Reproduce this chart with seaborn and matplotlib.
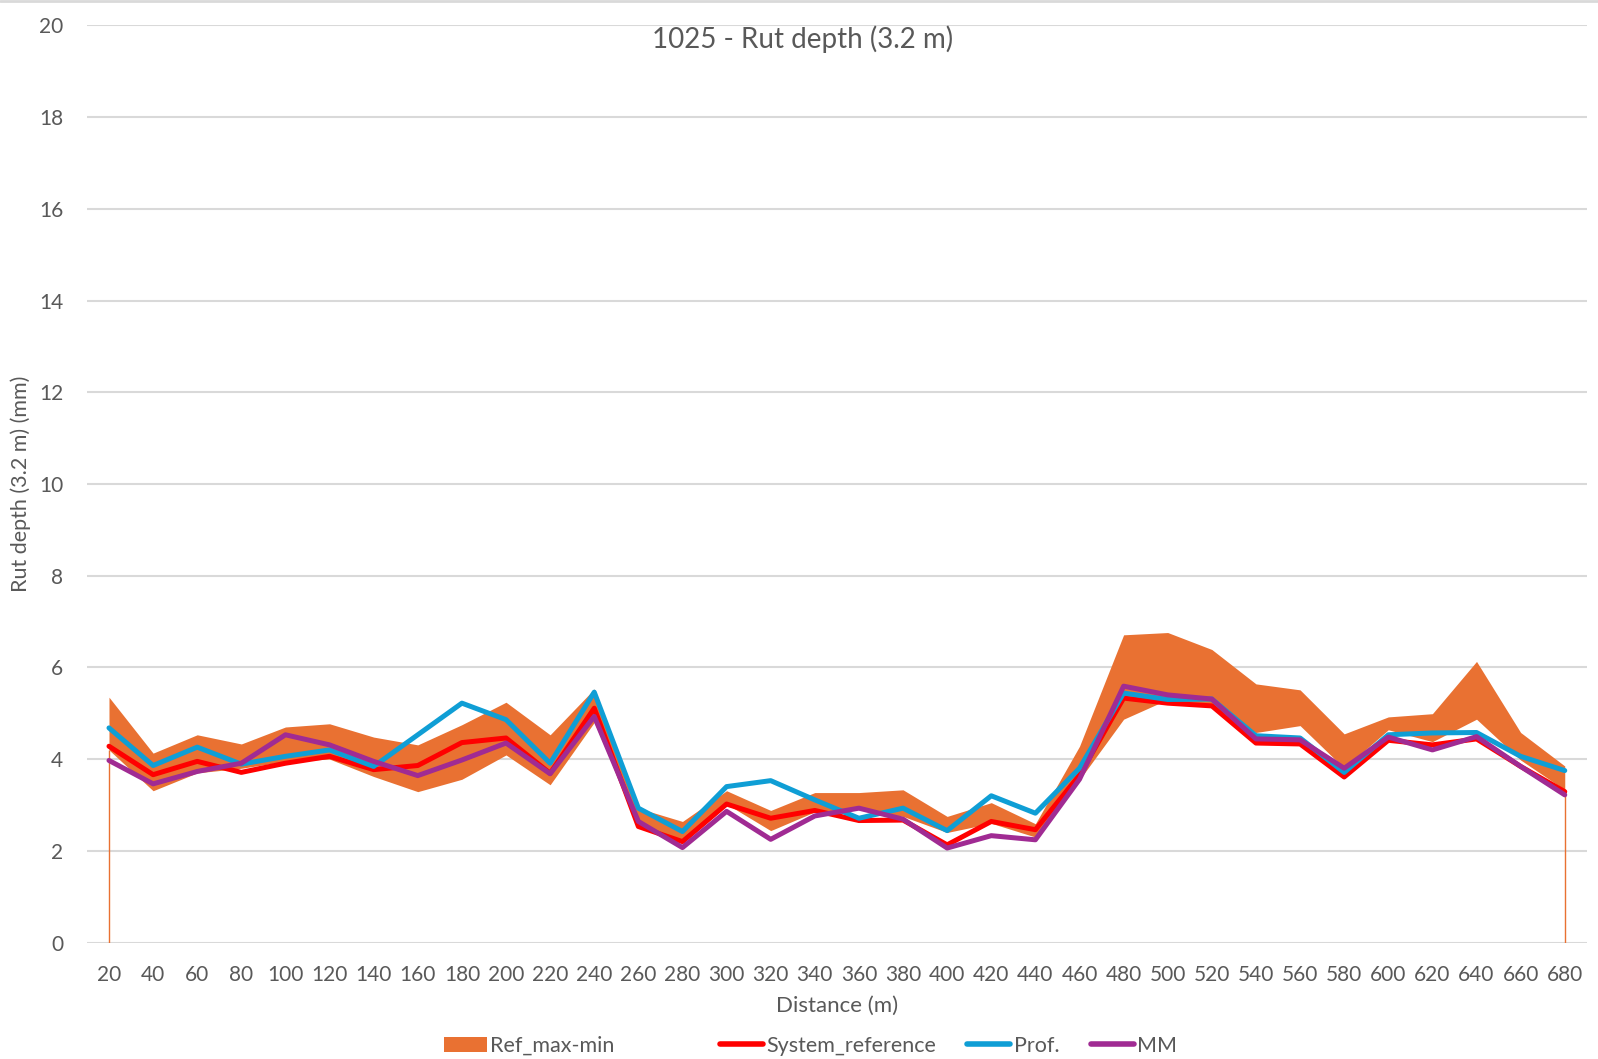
import numpy as np
import pandas as pd
import seaborn as sns
import matplotlib.pyplot as plt
from matplotlib.patches import Patch
from matplotlib.lines import Line2D

# Distance stations (m)
distance = list(range(20, 700, 20))

# Reference band (max / min of reference runs)
ref_max = [5.35, 4.13, 4.53, 4.33, 4.70, 4.77, 4.48, 4.31, 4.75, 5.24, 4.53, 5.53,
           2.93, 2.64, 3.31, 2.88, 3.27, 3.27, 3.33, 2.75, 3.05, 2.59, 4.28,
           6.71, 6.76, 6.39, 5.64, 5.51, 4.55, 4.92, 4.99, 6.13, 4.58, 3.85]
ref_min = [4.20, 3.31, 3.70, 3.80, 3.95, 4.00, 3.62, 3.29, 3.56, 4.09, 3.44, 4.80,
           2.55, 2.20, 3.02, 2.44, 2.85, 2.90, 2.75, 2.40, 2.60, 2.30, 3.55,
           4.87, 5.30, 5.15, 4.58, 4.73, 3.80, 4.64, 4.38, 4.87, 3.98, 3.33]

system_reference = [4.28, 3.66, 3.95, 3.71, 3.91, 4.06, 3.77, 3.86, 4.36, 4.46, 3.69, 5.11,
                    2.53, 2.20, 3.02, 2.71, 2.88, 2.66, 2.67, 2.13, 2.64, 2.46, 3.65,
                    5.33, 5.22, 5.16, 4.35, 4.33, 3.61, 4.41, 4.31, 4.44, 3.84, 3.29]
prof = [4.68, 3.86, 4.26, 3.89, 4.06, 4.20, 3.84, 4.53, 5.22, 4.86, 3.91, 5.46,
        2.93, 2.42, 3.40, 3.53, 3.11, 2.71, 2.93, 2.44, 3.20, 2.82, 3.80,
        5.44, 5.30, 5.31, 4.51, 4.46, 3.71, 4.53, 4.57, 4.58, 4.06, 3.75]
mm = [3.97, 3.46, 3.73, 3.91, 4.53, 4.31, 3.95, 3.64, 3.98, 4.35, 3.68, 4.93,
      2.64, 2.07, 2.86, 2.25, 2.76, 2.93, 2.69, 2.06, 2.33, 2.24, 3.56,
      5.59, 5.40, 5.31, 4.44, 4.42, 3.80, 4.48, 4.20, 4.49, 3.84, 3.22]

series_names = ["System_reference", "Prof.", "MM"]
colors = {"System_reference": "#FF0000", "Prof.": "#0F9ED5", "MM": "#A02B93"}
band_color = "#E97132"
text_color = "#595959"

df = pd.DataFrame({"distance": distance, "System_reference": system_reference,
                   "Prof.": prof, "MM": mm})
long_df = df.melt(id_vars="distance", var_name="series", value_name="rut")

sns.set_style("white")
plt.rcParams['font.family'] = ['Lato', 'DejaVu Sans']

fig = plt.figure(figsize=(15.98, 10.59), dpi=100)
ax = fig.add_axes([0.0544, 0.110, 0.9386, 0.866])

# band
ax.fill_between(distance, ref_min, ref_max, color=band_color, linewidth=0, zorder=2)
ax.vlines([distance[0], distance[-1]], 0, [ref_min[0], ref_min[-1]],
          color=band_color, linewidth=1, zorder=2)

sns.lineplot(data=long_df, x="distance", y="rut", hue="series", hue_order=series_names,
             palette=colors, linewidth=3.6, legend=False, ax=ax, zorder=3)

ax.set_xlim(10, 690)
ax.set_ylim(0, 20)
ax.set_xticks(distance)
ax.set_xticklabels([str(d) for d in distance])
ax.set_yticks(np.arange(0, 21, 2))
ax.grid(axis="y", color="#D9D9D9", linewidth=1.5)
ax.grid(axis="x", visible=False)
ax.set_axisbelow(True)
for s in ax.spines.values():
    s.set_visible(False)
ax.tick_params(axis="x", length=0, pad=16, labelsize=15, labelcolor=text_color)
ax.tick_params(axis="y", length=0, pad=17, labelsize=15, labelcolor=text_color)
ax.set_xlabel("Distance (m)", fontsize=16, color=text_color, labelpad=8)
ax.set_ylabel("Rut depth (3.2 m) (mm)", fontsize=15.5, color=text_color, labelpad=6)

fig.text(0.5025, 1 - 39 / 1059, "1025 - Rut depth (3.2 m)", ha="center", va="center",
         fontsize=20, color=text_color)

# legend: band entry sits apart from the three lines, like the original
leg_kw = dict(frameon=False, fontsize=15.5, handlelength=2.0, handletextpad=0.15,
              labelcolor=text_color, borderpad=0, borderaxespad=0)
band_handle = [Patch(facecolor=band_color, edgecolor="none", label="Ref_max-min")]
line_handles = [Line2D([], [], color=colors[n], linewidth=4, label=n) for n in series_names]
fig.legend(handles=band_handle, loc="center left", bbox_to_anchor=(444 / 1598, 1 - 1046 / 1059), **leg_kw)
fig.legend(handles=line_handles, loc="center left", bbox_to_anchor=(720 / 1598, 1 - 1046 / 1059),
           ncol=3, columnspacing=1.45, **leg_kw)

fig.add_artist(Line2D([0, 1], [0.999, 0.999], color="#D9D9D9", linewidth=2))

fig.savefig("out.png", dpi=100)
